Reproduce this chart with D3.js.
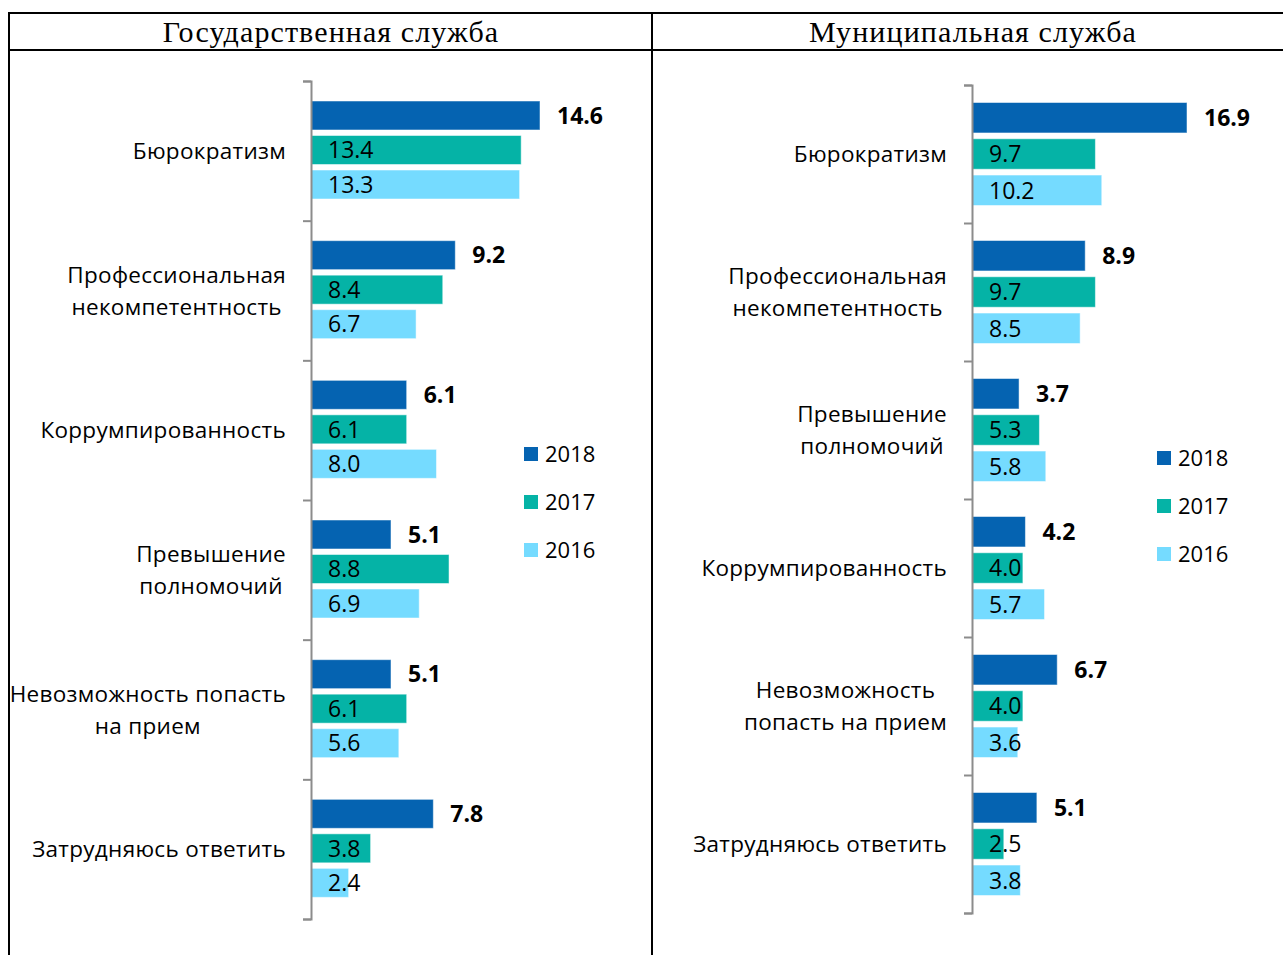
<!DOCTYPE html>
<html>
<head>
<meta charset="utf-8">
<script src="https://cdn.jsdelivr.net/npm/d3@7/dist/d3.min.js"></script>
<style>
  body { margin: 0; background: #fff; }
  svg { display: block; }
</style>
</head>
<body>
<svg id="chart" width="1283" height="955"></svg>
<script>
// series and colours
const years = ["2018", "2017", "2016"];
const yearColors = ["#0563b1", "#05b3a6", "#75dbff"];

// Государственная служба
const govTitle = "Государственная служба";
const govCategories = [
  "Бюрократизм",
  "Профессиональная\nнекомпетентность",
  "Коррумпированность",
  "Превышение\nполномочий",
  "Невозможность попасть\nна прием",
  "Затрудняюсь ответить"
];
const gov2018 = [14.6, 9.2, 6.1, 5.1, 5.1, 7.8];
const gov2017 = [13.4, 8.4, 6.1, 8.8, 6.1, 3.8];
const gov2016 = [13.3, 6.7, 8.0, 6.9, 5.6, 2.4];

// Муниципальная служба
const munTitle = "Муниципальная служба";
const munCategories = [
  "Бюрократизм",
  "Профессиональная\nнекомпетентность",
  "Превышение\nполномочий",
  "Коррумпированность",
  "Невозможность\nпопасть на прием",
  "Затрудняюсь ответить"
];
const mun2018 = [16.9, 8.9, 3.7, 4.2, 6.7, 5.1];
const mun2017 = [9.7, 9.7, 5.3, 4.0, 4.0, 2.5];
const mun2016 = [10.2, 8.5, 5.8, 5.7, 3.6, 3.8];

const labelFont = "'Open Sans', 'Noto Sans', sans-serif";
const svg = d3.select("#chart");

// table frame around the two panels
const frame = svg.append("g").attr("stroke", "#000").attr("stroke-width", 2);
frame.append("line").attr("x1", 9).attr("x2", 1283).attr("y1", 13).attr("y2", 13);
frame.append("line").attr("x1", 9).attr("x2", 1283).attr("y1", 50).attr("y2", 50);
frame.append("line").attr("x1", 9).attr("x2", 9).attr("y1", 12).attr("y2", 955);
frame.append("line").attr("x1", 652).attr("x2", 652).attr("y1", 12).attr("y2", 955);

// one panel = title + grouped horizontal bars
function drawPanel(p) {
  const g = svg.append("g");

  g.append("text")
    .attr("x", p.titleX).attr("y", 42)
    .attr("text-anchor", "middle")
    .style("font-family", "'Liberation Serif', 'Times New Roman', serif")
    .style("font-size", "30px")
    .style("letter-spacing", "1.1px")
    .text(p.title);

  const rows = p.categories.map((c, i) => ({
    cat: c,
    vals: years.map((y, k) => ({ year: y, k: k, v: p.series[k][i] }))
  }));

  const x = d3.scaleLinear().domain([0, p.max]).range([p.x0, p.x1]);
  const y = d3.scaleBand().domain(d3.range(rows.length)).range([p.y0, p.y1]);
  const yInner = d3.scaleBand().domain(years).range(p.inner).paddingInner(0.16);
  const yIdx = d3.scaleLinear().domain([0, rows.length]).range([p.y0, p.y1]);

  const grp = g.selectAll("g.grp")
    .data(rows)
    .join("g")
    .attr("class", "grp")
    .attr("transform", (d, i) => `translate(0,${y(i)})`);

  grp.selectAll("rect")
    .data(d => d.vals)
    .join("rect")
    .attr("x", x(0))
    .attr("y", d => yInner(d.year))
    .attr("width", d => x(d.v) - x(0))
    .attr("height", yInner.bandwidth())
    .attr("fill", d => yearColors[d.k])
    .attr("stroke", "#ffffff")
    .attr("stroke-opacity", 0.5)
    .attr("stroke-width", 1);

  grp.selectAll("text.val")
    .data(d => d.vals)
    .join("text")
    .attr("class", "val")
    .attr("x", d => d.k === 0 ? x(d.v) + 17 : x(0) + 17)
    .attr("y", d => yInner(d.year) + yInner.bandwidth() / 2)
    .attr("dy", "0.36em")
    .style("font-family", labelFont)
    .style("font-size", "23px")
    .style("font-weight", d => d.k === 0 ? "bold" : "normal")
    .attr("fill", "#000")
    .text(d => d.v.toFixed(1));

  // category labels: wrapped block, right aligned, lines centred
  grp.each(function (d, i) {
    const lines = d.cat.split("\n");
    const t = d3.select(this).append("text")
      .style("font-family", labelFont)
      .style("font-size", "22.5px")
      .style("letter-spacing", "0.3px")
      .attr("fill", "#000");
    const spans = lines.map((ln, j) => t.append("tspan")
      .attr("y", y.bandwidth() / 2 + (j - (lines.length - 1) / 2) * 32)
      .attr("dy", "0.36em")
      .text(ln));
    const w = d3.max(spans, s => s.node().getComputedTextLength());
    const right = p.x0 - 25;
    spans.forEach(s => s.attr("x", right - w / 2).attr("text-anchor", "middle"));
  });

  // vertical category axis with ticks between groups
  g.append("g")
    .attr("transform", `translate(${p.x0},0)`)
    .call(d3.axisLeft(yIdx).tickValues(d3.range(rows.length + 1)).tickSize(8).tickFormat(""))
    .call(a => a.selectAll("line, path").attr("stroke", "#8c8c8c").attr("stroke-width", 2));

  // legend
  const lg = g.selectAll("g.leg")
    .data(years)
    .join("g")
    .attr("class", "leg")
    .attr("transform", (d, i) => `translate(${p.legendX},${p.legendY + i * 48})`);
  lg.append("rect")
    .attr("x", 0).attr("y", -7).attr("width", 14).attr("height", 14)
    .attr("fill", (d, i) => yearColors[i]);
  lg.append("text")
    .attr("x", 21).attr("y", 0).attr("dy", "0.36em")
    .style("font-family", labelFont)
    .style("font-size", "22px")
    .text(d => d);
}

drawPanel({
  title: govTitle, titleX: 331,
  categories: govCategories, series: [gov2018, gov2017, gov2016],
  max: 14.6, x0: 311, x1: 540, y0: 81, y1: 919, inner: [20, 118],
  legendX: 524, legendY: 454
});

drawPanel({
  title: munTitle, titleX: 973,
  categories: munCategories, series: [mun2018, mun2017, mun2016],
  max: 16.9, x0: 972, x1: 1187, y0: 85, y1: 913, inner: [17.5, 120.5],
  legendX: 1157, legendY: 458
});
</script>
</body>
</html>
